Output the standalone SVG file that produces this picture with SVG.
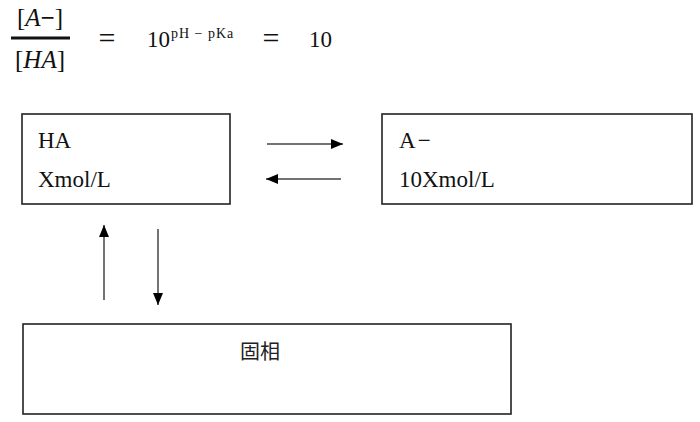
<svg xmlns="http://www.w3.org/2000/svg" width="700" height="422" viewBox="0 0 700 422">
<defs>
<style>
.t{font-family:"Liberation Serif","Noto Sans CJK JP",serif;font-size:23px;fill:#111}
.m{font-family:"Liberation Serif",serif;font-size:25px;fill:#111}
.eq{font-family:"Liberation Serif",serif;font-size:30px;fill:#111}
.cj{font-family:"Noto Sans CJK JP",serif;font-size:20px;fill:#222}
.box{fill:#fff;stroke:#222;stroke-width:1.6}
.ln{stroke:#444;stroke-width:1.5;fill:none;marker-end:url(#ah)}
</style>
<marker id="ah" viewBox="0 0 12 10" refX="12" refY="5" markerWidth="12" markerHeight="10" markerUnits="userSpaceOnUse" orient="auto">
<path d="M0,0 L12,5 L0,10 Z" fill="#000"/>
</marker>
</defs>
<rect width="700" height="422" fill="#fff"/>
<g id="formula">
<text class="m" x="40" y="26" text-anchor="middle">[<tspan font-style="italic">A</tspan><tspan font-weight="bold">−</tspan>]</text>
<line x1="11" y1="38" x2="70" y2="38" stroke="#111" stroke-width="3"/>
<text class="m" x="40" y="68" text-anchor="middle">[<tspan font-style="italic">HA</tspan>]</text>
<text class="eq" x="107" y="48" text-anchor="middle">=</text>
<text class="t" x="147" y="47">10<tspan font-size="14" letter-spacing="1" dy="-9" dx="1">pH − pKa</tspan></text>
<text class="eq" x="271" y="48" text-anchor="middle">=</text>
<text class="t" x="309" y="47">10</text>
</g>
<g id="node-ha">
<rect class="box" x="22" y="114" width="208" height="90"/>
<text class="t" x="38" y="148">HA</text>
<text class="t" x="38" y="187">Xmol/L</text>
</g>
<g id="node-a">
<rect class="box" x="382" y="114" width="310" height="90"/>
<text class="t" x="399" y="148">A<tspan dx="2">−</tspan></text>
<text class="t" x="399" y="187">10Xmol/L</text>
</g>
<g id="node-solid">
<rect class="box" x="23" y="324" width="488" height="90"/>
<text class="cj" x="260" y="359" text-anchor="middle">固相</text>
</g>
<g id="connectors">
<line class="ln" x1="267" y1="144" x2="343" y2="144"/>
<line class="ln" x1="341" y1="179" x2="266" y2="179"/>
<line class="ln" x1="104" y1="300" x2="104" y2="225"/>
<line class="ln" x1="158" y1="229" x2="158" y2="305"/>
</g>
</svg>
